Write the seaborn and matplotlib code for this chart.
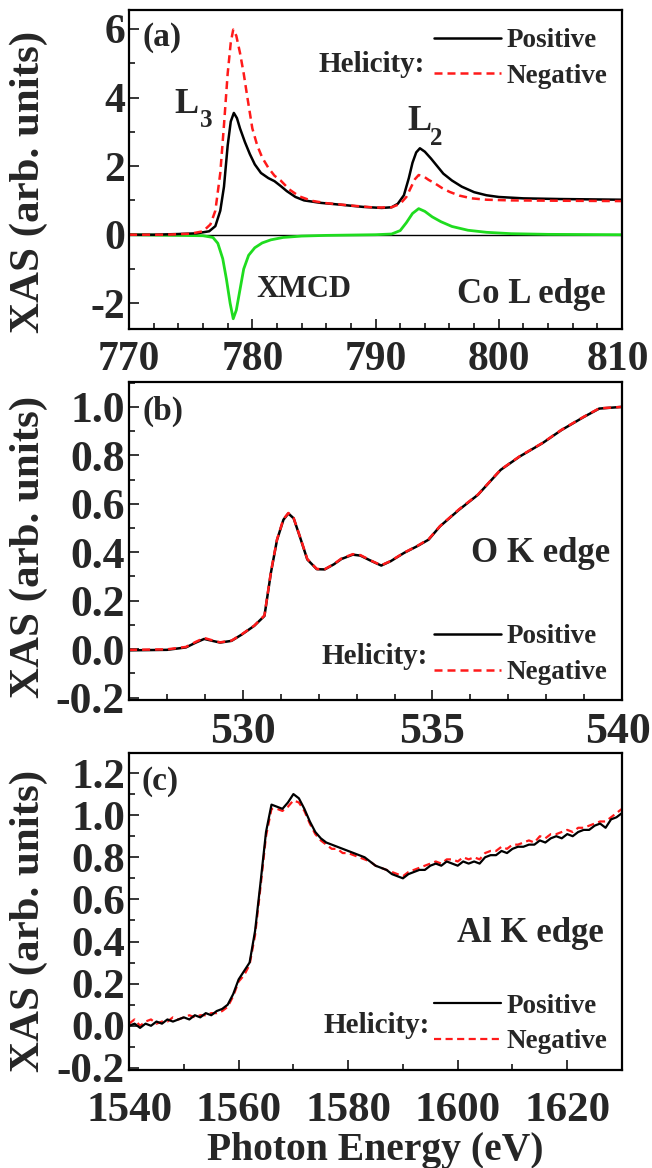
import numpy as np
import pandas as pd
import matplotlib
matplotlib.use('Agg')
import matplotlib.pyplot as plt
import matplotlib.transforms as mtransforms
from matplotlib.ticker import MultipleLocator, FormatStrFormatter
import seaborn as sns

# ─── STYLE ───────────────────────────────────────────────
sns.set_theme(style='ticks')
plt.rcParams['font.family'] = ['Liberation Serif', 'DejaVu Serif']
plt.rcParams['font.weight'] = 'bold'
plt.rcParams['axes.labelweight'] = 'bold'
plt.rcParams['axes.unicode_minus'] = False

BLACK = '#000000'
RED = '#ff1a1a'
GREEN = '#1fdc1f'

# ─── DATA: (a) Co L edge ─────────────────────────────────
co_x_pos = [770, 772, 774, 775.5, 776.5, 777.0, 777.4, 777.7, 778.0, 778.25,
            778.5, 778.75, 779.0, 779.4, 779.8, 780.2, 780.7, 781.3, 781.8, 782.3,
            782.8, 783.5, 784.2, 785.5, 787, 789, 790.5, 791.3, 791.8, 792.3,
            792.7, 793.0, 793.3, 793.6, 794.0, 794.5, 795.0, 795.5, 796.2, 797,
            798, 799, 800, 802, 805, 810]
co_pos = [0.0, 0.0, 0.02, 0.04, 0.1, 0.25, 0.7, 1.4, 2.6, 3.3,
          3.55, 3.4, 3.1, 2.7, 2.35, 2.05, 1.8, 1.65, 1.56, 1.42,
          1.27, 1.1, 1.0, 0.93, 0.88, 0.81, 0.78, 0.8, 0.9, 1.15,
          1.65, 2.1, 2.4, 2.52, 2.42, 2.22, 2.0, 1.78, 1.58, 1.4,
          1.24, 1.15, 1.1, 1.06, 1.04, 1.02]

co_x_neg = [770, 773, 775, 776, 776.6, 777.0, 777.4, 777.7, 778.0, 778.25,
            778.45, 778.7, 779.0, 779.3, 779.6, 780.0, 780.4, 780.8, 781.3, 781.8,
            782.3, 783.0, 783.8, 784.8, 786, 788, 790, 791.3, 792, 792.5,
            792.9, 793.2, 793.5, 793.9, 794.3, 794.8, 795.4, 796, 796.8, 797.8,
            799, 801, 805, 810]
co_neg = [0.0, 0.0, 0.03, 0.1, 0.3, 0.7, 1.8, 3.2, 4.7, 5.6,
          5.98, 5.8, 5.3, 4.7, 4.0, 3.1, 2.6, 2.25, 1.95, 1.72,
          1.58, 1.32, 1.12, 0.99, 0.92, 0.85, 0.79, 0.8, 0.9, 1.1,
          1.4, 1.62, 1.74, 1.7, 1.6, 1.5, 1.36, 1.25, 1.14, 1.06,
          1.02, 1.0, 0.99, 0.98]

co_x_xmcd = [770, 774, 776, 776.8, 777.2, 777.6, 777.9, 778.2, 778.45, 778.7,
             779.0, 779.3, 779.7, 780.2, 780.8, 781.5, 782.5, 784, 786, 790,
             791.3, 792.0, 792.5, 793.0, 793.5, 794.0, 794.6, 795.3, 796.2, 797.5,
             799, 801, 804, 810]
co_xmcd = [0.0, -0.02, -0.03, -0.08, -0.25, -0.7, -1.3, -2.0, -2.45, -2.2,
           -1.6, -1.0, -0.6, -0.38, -0.24, -0.15, -0.08, -0.04, -0.02, 0.0,
           0.02, 0.12, 0.35, 0.62, 0.76, 0.68, 0.52, 0.38, 0.24, 0.13,
           0.07, 0.03, 0.01, 0.0]

# ─── DATA: (b) O K edge ──────────────────────────────────
o_x = [527.0, 528.0, 528.5, 528.76, 528.98, 529.2, 529.4, 529.7, 529.97, 530.3,
       530.57, 530.74, 530.9, 531.07, 531.2, 531.34, 531.5, 531.7, 531.95, 532.16,
       532.4, 532.6, 532.9, 533.1, 533.4, 533.65, 533.9, 534.25, 534.6, 534.9,
       535.2, 535.7, 536.2, 536.8, 537.3, 537.9, 538.4, 539.0, 539.4, 540.0]
o_pos = [-0.005, -0.003, 0.007, 0.027, 0.042, 0.034, 0.027, 0.034, 0.06, 0.096,
         0.137, 0.315, 0.45, 0.534, 0.56, 0.54, 0.466, 0.37, 0.33, 0.329,
         0.35, 0.372, 0.39, 0.386, 0.363, 0.345, 0.363, 0.397, 0.425, 0.452,
         0.507, 0.575, 0.637, 0.74, 0.795, 0.85, 0.904, 0.959, 0.993, 1.0]
o_neg = [-0.003, -0.001, 0.009, 0.03, 0.046, 0.036, 0.028, 0.035, 0.061, 0.097,
         0.139, 0.318, 0.452, 0.536, 0.562, 0.541, 0.467, 0.372, 0.331, 0.33,
         0.351, 0.374, 0.392, 0.388, 0.364, 0.346, 0.364, 0.398, 0.426, 0.454,
         0.508, 0.577, 0.638, 0.741, 0.796, 0.851, 0.905, 0.96, 0.994, 1.0]

# ─── DATA: (c) Al K edge ─────────────────────────────────
al_x = [1540, 1541, 1542, 1543, 1544, 1545, 1546, 1547, 1548, 1549,
        1550, 1551, 1552, 1553, 1554, 1555, 1556, 1557, 1558, 1559,
        1560, 1561, 1562, 1563, 1564, 1565, 1566, 1567, 1568, 1569,
        1570, 1571, 1572, 1573, 1574, 1575, 1576, 1577, 1578, 1579,
        1580, 1581, 1582, 1583, 1584, 1585, 1586, 1587, 1588, 1589,
        1590, 1591, 1592, 1593, 1594, 1595, 1596, 1597, 1598, 1599,
        1600, 1601, 1602, 1603, 1604, 1605, 1606, 1607, 1608, 1609,
        1610, 1611, 1612, 1613, 1614, 1615, 1616, 1617, 1618, 1619,
        1620, 1621, 1622, 1623, 1624, 1625, 1626, 1627, 1628, 1629, 1630]
al_pos = [0.00, 0.01, -0.01, 0.01, 0.00, 0.02, 0.01, 0.03, 0.02, 0.03,
          0.04, 0.03, 0.05, 0.04, 0.06, 0.05, 0.07, 0.08, 0.10, 0.15,
          0.22, 0.26, 0.30, 0.45, 0.68, 0.92, 1.05, 1.04, 1.03, 1.06,
          1.10, 1.08, 1.03, 0.97, 0.92, 0.89, 0.87, 0.86, 0.85, 0.84,
          0.83, 0.82, 0.81, 0.80, 0.78, 0.76, 0.75, 0.74, 0.72, 0.71,
          0.70, 0.72, 0.73, 0.74, 0.74, 0.76, 0.77, 0.76, 0.78, 0.77,
          0.76, 0.78, 0.77, 0.78, 0.77, 0.80, 0.81, 0.81, 0.83, 0.82,
          0.84, 0.85, 0.85, 0.86, 0.86, 0.88, 0.87, 0.89, 0.90, 0.89,
          0.91, 0.90, 0.92, 0.93, 0.93, 0.95, 0.96, 0.94, 0.98, 0.99, 1.01]
al_neg = [0.01, 0.03, 0.00, 0.02, 0.03, 0.01, 0.02, 0.02, 0.04, 0.03,
          0.04, 0.05, 0.04, 0.05, 0.05, 0.06, 0.06, 0.07, 0.09, 0.14,
          0.21, 0.24, 0.29, 0.43, 0.66, 0.90, 1.03, 1.03, 1.02, 1.04,
          1.07, 1.06, 1.02, 0.96, 0.91, 0.88, 0.86, 0.84, 0.84, 0.82,
          0.82, 0.81, 0.80, 0.79, 0.78, 0.76, 0.75, 0.74, 0.73, 0.72,
          0.71, 0.73, 0.74, 0.75, 0.76, 0.77, 0.78, 0.77, 0.79, 0.79,
          0.78, 0.80, 0.79, 0.80, 0.79, 0.82, 0.83, 0.83, 0.85, 0.84,
          0.86, 0.86, 0.87, 0.88, 0.87, 0.90, 0.89, 0.91, 0.91, 0.92,
          0.93, 0.92, 0.94, 0.94, 0.95, 0.96, 0.97, 0.97, 0.99, 1.01, 1.03]

# ─── FIGURE ──────────────────────────────────────────────
fig = plt.figure(figsize=(6.52, 11.68), dpi=100)
ax_a = fig.add_axes([0.198, 0.7183, 0.756, 0.2731])
ax_b = fig.add_axes([0.198, 0.4007, 0.756, 0.2723])
ax_c = fig.add_axes([0.198, 0.0839, 0.756, 0.2714])

LABEL_FS = 31
LEG_FS = 19.5
DASH = [3.2, 2.0]


def style_axes(ax, xlim, ylim, xmaj, xmin, ymaj, ymin, tick_fs, xpad, ylab_y):
    ax.set_xlim(*xlim)
    ax.set_ylim(*ylim)
    ax.xaxis.set_major_locator(MultipleLocator(xmaj))
    ax.xaxis.set_minor_locator(MultipleLocator(xmin))
    ax.yaxis.set_major_locator(MultipleLocator(ymaj))
    ax.yaxis.set_minor_locator(MultipleLocator(ymin))
    ax.tick_params(which='both', direction='in', top=False, right=False,
                   width=1.3, labelsize=tick_fs)
    ax.tick_params(axis='y', pad=3)
    ax.tick_params(axis='x', pad=xpad)
    ax.tick_params(which='major', length=7)
    ax.tick_params(which='minor', length=4)
    for sp in ax.spines.values():
        sp.set_linewidth(1.6)
        sp.set_color('black')
    ax.set_ylabel('XAS (arb. units)', fontsize=LABEL_FS, fontweight='bold')
    ax.yaxis.set_label_coords(-0.164, ylab_y)
    ax.set_xlabel('')


def nudge_last_xlabel(ax, dx_px=-4):
    # keep the right-most visible tick label inside the canvas
    fig.canvas.draw()
    xmax = ax.get_xlim()[1]
    ticks = [t for t in ax.xaxis.get_major_ticks() if t.get_loc() <= xmax + 1e-9]
    last = max(ticks, key=lambda t: t.get_loc()).label1
    offset = mtransforms.ScaledTranslation(dx_px / 100, 0, fig.dpi_scale_trans)
    last.set_transform(last.get_transform() + offset)


def helicity_legend(ax, anchor, text_xy, order=None):
    handles, labels = ax.get_legend_handles_labels()
    if order is not None:
        handles = [handles[i] for i in order]
        labels = [labels[i] for i in order]
    ax.legend(handles, labels, loc='center right', bbox_to_anchor=anchor,
              frameon=False, handlelength=2.5, handletextpad=0.18,
              labelspacing=0.4, borderpad=0, borderaxespad=0,
              prop={'size': LEG_FS, 'weight': 'bold'})
    ax.text(text_xy[0], text_xy[1], 'Helicity:', transform=ax.transAxes,
            ha='right', va='center', fontsize=21, fontweight='bold')


# (a)
ax_a.axhline(0, color='black', lw=1.0, zorder=1)
sns.lineplot(x=co_x_xmcd, y=co_xmcd, ax=ax_a, color=GREEN, lw=2.0, legend=False)
sns.lineplot(x=co_x_pos, y=co_pos, ax=ax_a, color=BLACK, lw=1.8, label='Positive')
sns.lineplot(x=co_x_neg, y=co_neg, ax=ax_a, color=RED, lw=1.8, label='Negative')
ax_a.lines[-1].set_dashes(DASH)
style_axes(ax_a, (770, 810), (-2.75, 6.55), 10, 2, 2, 1, 30, 8.5, 0.46)
helicity_legend(ax_a, (0.970, 0.848), (0.60, 0.83))
ax_a.text(0.028, 0.887, '(a)', transform=ax_a.transAxes, ha='left', va='baseline',
          fontsize=24, fontweight='bold')
ax_a.text(773.7, 3.55, 'L', fontsize=26, fontweight='bold', ha='left', va='baseline')
ax_a.text(775.76, 3.14, '3', fontsize=18, fontweight='bold', ha='left', va='baseline')
ax_a.text(792.6, 3.05, 'L', fontsize=26, fontweight='bold', ha='left', va='baseline')
ax_a.text(794.45, 2.62, '2', fontsize=18, fontweight='bold', ha='left', va='baseline')
ax_a.text(780.3, -1.82, 'XMCD', fontsize=22, fontweight='bold', ha='left', va='baseline')
ax_a.text(808.7, -1.99, 'Co L edge', fontsize=25, fontweight='bold', ha='right',
          va='baseline')

# (b)
sns.lineplot(x=o_x, y=o_pos, ax=ax_b, color=BLACK, lw=1.8, label='Positive')
sns.lineplot(x=o_x, y=o_neg, ax=ax_b, color=RED, lw=1.8, label='Negative')
ax_b.lines[-1].set_dashes(DASH)
style_axes(ax_b, (527, 540), (-0.21, 1.103), 5, 1, 0.2, 0.1, 31.5, 9, 0.48)
ax_b.yaxis.set_major_formatter(FormatStrFormatter('%.1f'))
helicity_legend(ax_b, (0.970, 0.142), (0.607, 0.138))
ax_b.text(0.028, 0.88, '(b)', transform=ax_b.transAxes, ha='left', va='baseline',
          fontsize=24, fontweight='bold')
ax_b.text(0.976, 0.434, 'O K edge', transform=ax_b.transAxes, fontsize=25,
          fontweight='bold', ha='right', va='baseline')

# (c)
sns.lineplot(x=al_x, y=al_neg, ax=ax_c, color=RED, lw=1.6, label='Negative')
ax_c.lines[-1].set_dashes(DASH)
sns.lineplot(x=al_x, y=al_pos, ax=ax_c, color=BLACK, lw=1.6, label='Positive')
style_axes(ax_c, (1540, 1630), (-0.21, 1.295), 20, 10, 0.2, 0.1, 31, 16, 0.47)
ax_c.yaxis.set_major_formatter(FormatStrFormatter('%.1f'))
helicity_legend(ax_c, (0.970, 0.145), (0.61, 0.14), order=[1, 0])
ax_c.text(0.026, 0.883, '(c)', transform=ax_c.transAxes, ha='left', va='baseline',
          fontsize=24, fontweight='bold')
ax_c.text(0.963, 0.404, 'Al K edge', transform=ax_c.transAxes, fontsize=25,
          fontweight='bold', ha='right', va='baseline')
ax_c.set_xlabel('Photon Energy (eV)', fontsize=28.5, fontweight='bold')
ax_c.xaxis.set_label_coords(0.5, -0.195)
ax_c.xaxis.label.set_va('top')

nudge_last_xlabel(ax_a)
nudge_last_xlabel(ax_b)

fig.savefig('out.png', dpi=100)
plt.close(fig)
